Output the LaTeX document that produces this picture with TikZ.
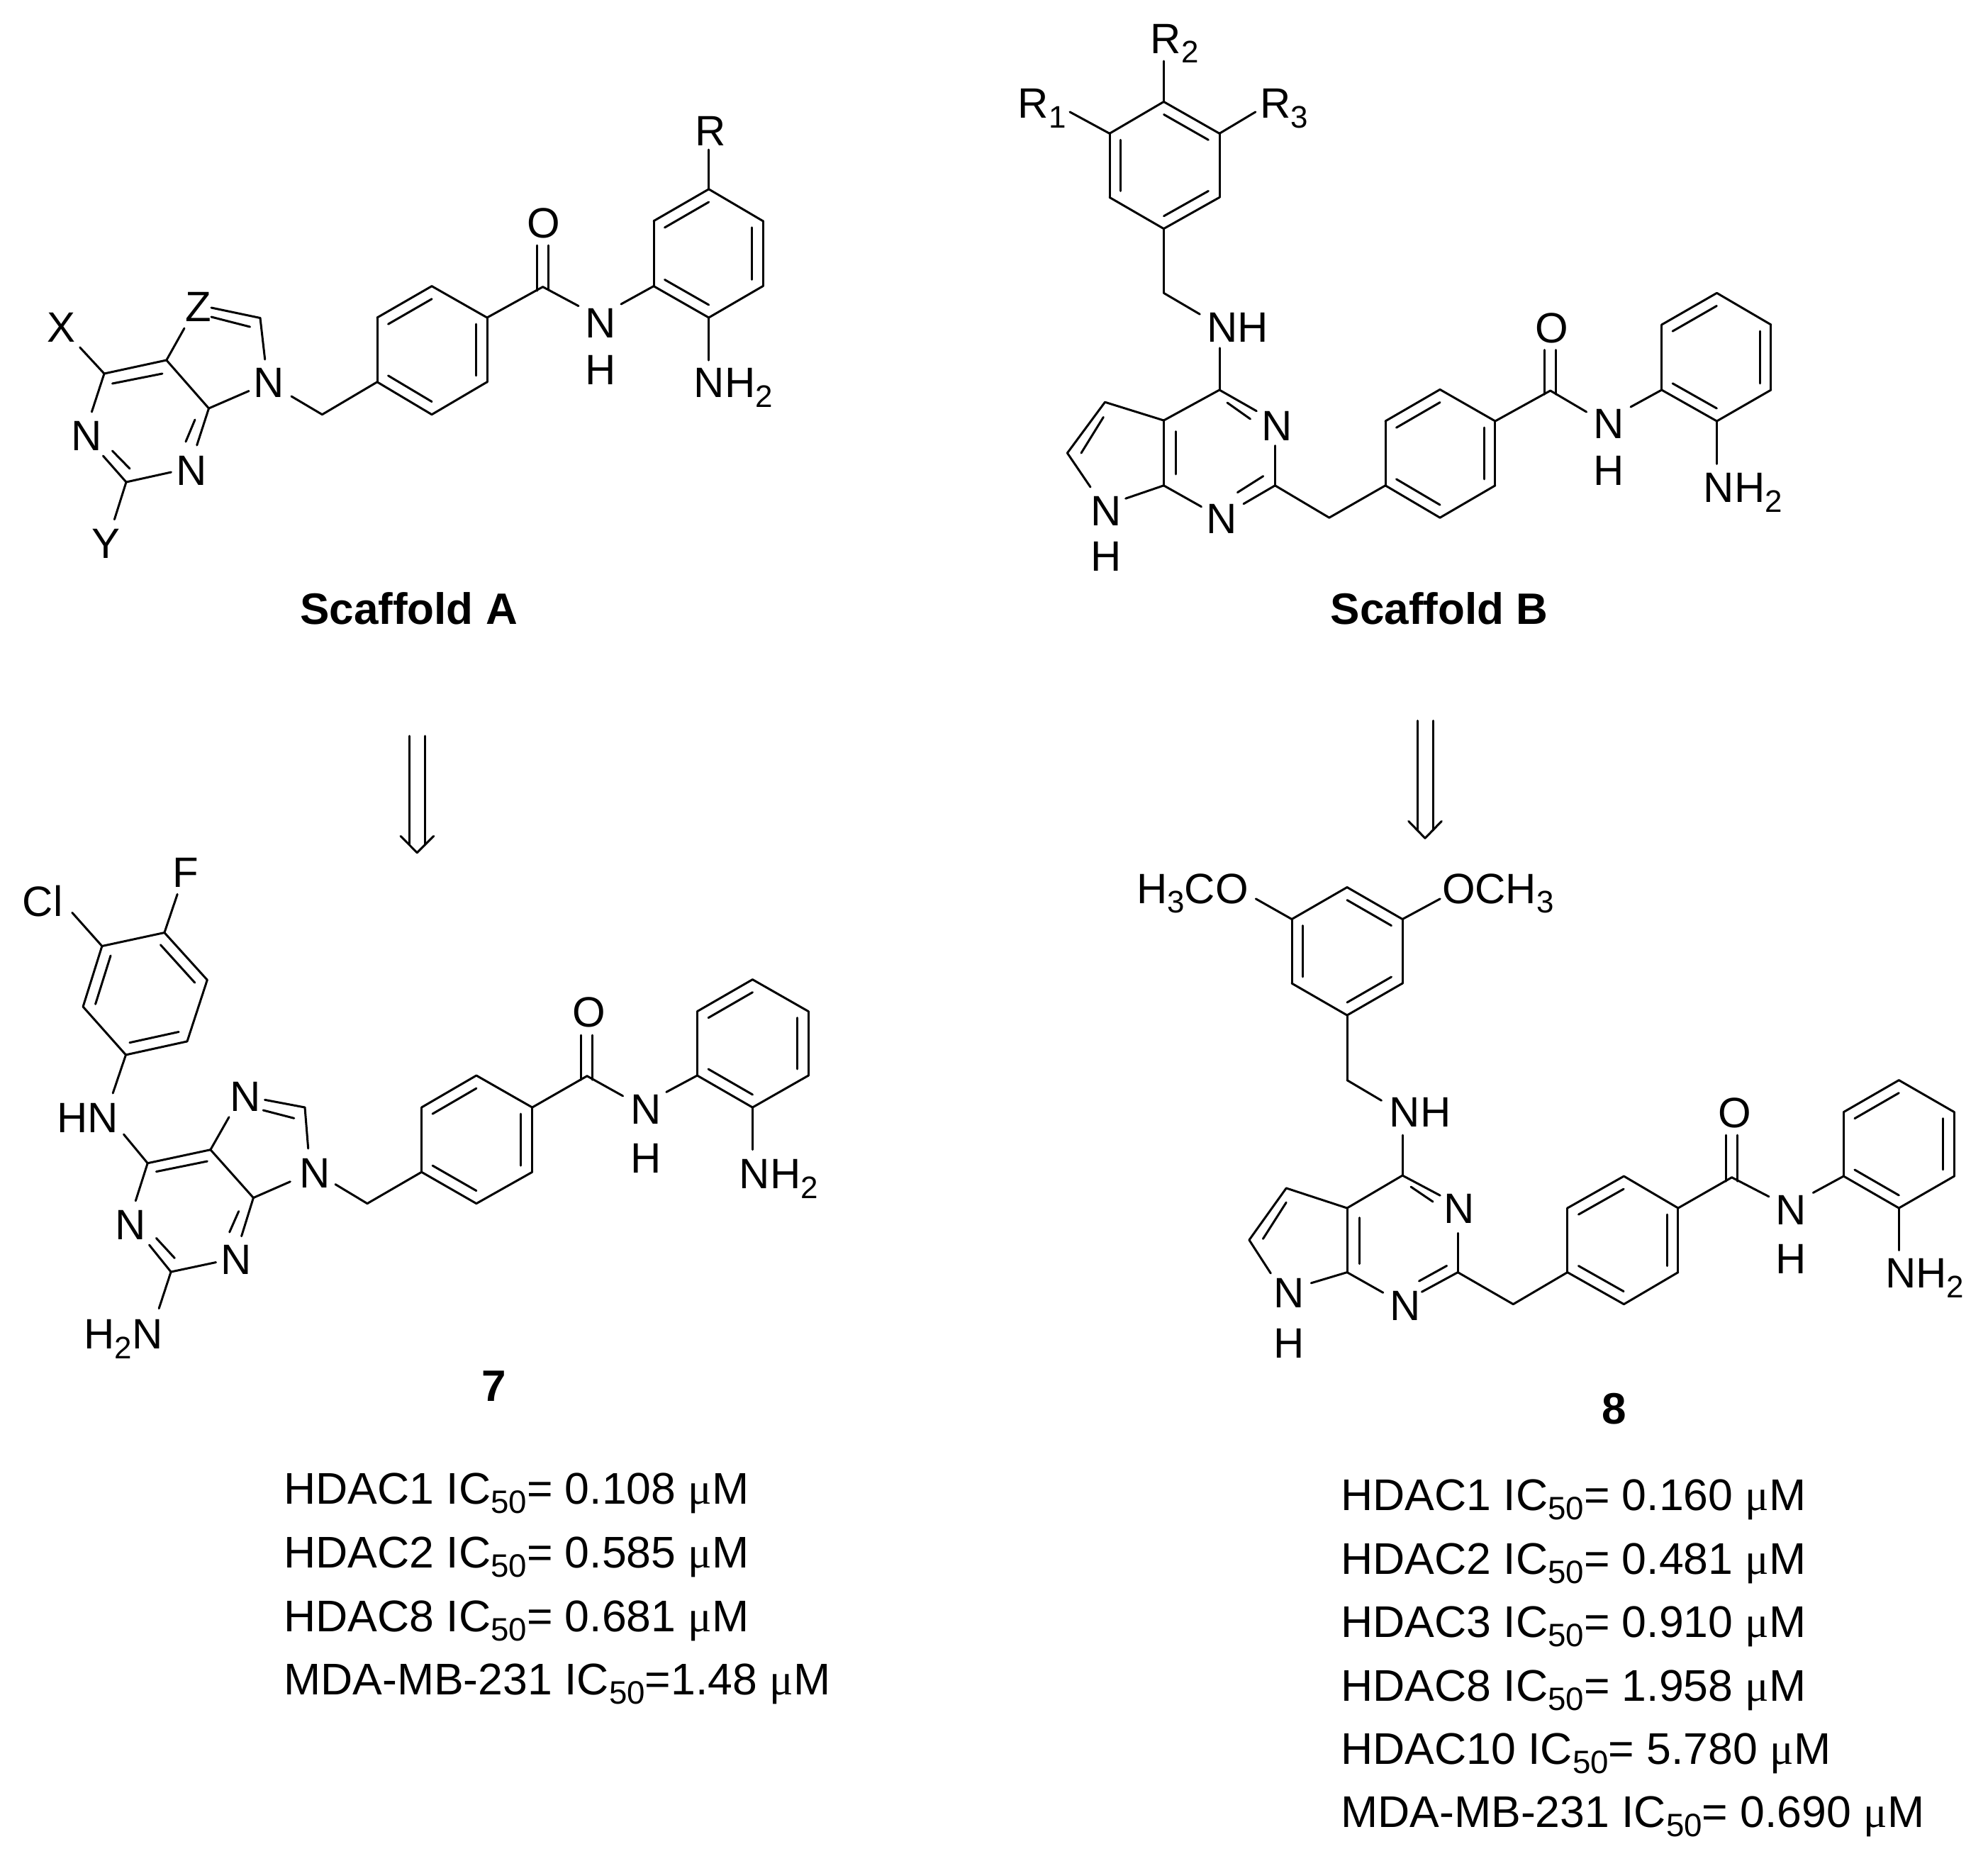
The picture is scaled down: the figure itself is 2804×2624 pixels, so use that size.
\documentclass[tikz,border=0pt]{standalone}
\usepackage{fontspec}
\setmainfont{Liberation Sans}
\newfontfamily\mufont{Liberation Serif}
\usetikzlibrary{calc}
\newcommand\sbs[1]{\raisebox{-0.27cm}{\fontsize{25}{25}\selectfont #1}}
\newcommand\lsb[1]{\raisebox{-0.26cm}{\fontsize{26}{26}\selectfont #1}}
\newcommand\um{{\mufont μ}M}
\newcommand\molpts[1]{\foreach \n/\x/\y in {#1} {\coordinate (\n) at (\x,\y);}}
\newcommand\molbonds[1]{\foreach \p/\q in {#1} {\draw[bond] (\p)--(\q);}}
\newcommand\ringdbl[1]{\foreach \p/\q/\r in {#1} {\draw[bond] ($(\p)!0.2!(\r)$)--($(\q)!0.2!(\r)$);}}
\tikzset{
  bond/.style={line width=0.06cm,line cap=round,line join=round,black},
  atom/.style={inner sep=0pt,text height=0.86cm,text depth=0pt,font=\fontsize{34.1}{40}\selectfont,black},
  atomw/.style={atom,anchor=west},
  title/.style={inner sep=0pt,text height=0.89cm,text depth=0pt,font=\fontsize{35.3}{40}\selectfont\bfseries,black},
  assay/.style={inner sep=0pt,anchor=base west,font=\fontsize{35.6}{40}\selectfont,black}
}
\begin{document}
\begin{tikzpicture}[x=0.02cm,y=-0.02cm]
\useasboundingbox[fill=white] (0,0) rectangle (2804,2624);
% ---------- Scaffold A
\molpts{a1/999.7/266.8,a2/1076/311.7,a3/1076/403.6,a4/999.7/448,a5/922/403.6,a6/922/311.7,ar/999.5/358,
aRe/999.7/211,aNHe/999.7/508,aNr/876/429,aNc/816/431.6,aco/765.6/404.6,
a7/609/403.6,a8/687/448,a9/687/538.8,a10/609/584.7,a11/532/538.8,a12/532/448,as/609.5/494,
ach/454.4/584.7,aN9c/411/559,aN9f/351/551.5,aC4/294.5/576,aC5/234.8/508,aZe/260/463,
aCH/367/448.5,aZd/298/434,aZi/298/447,aCi/352.6/461,aN9t/373.7/507,
aC6/147/527,aXe/112.7/490,ai1/158.5/541,ai2/229/527,aN1e/129.4/581,aN1d/145.4/643,aC2/178/680,
ai3/158.5/636,ai4/183/661,aN3e/241.4/666,aYe/161.4/732.7,aN3d/277.7/628,ai5/275/592,ai6/262/623,
ao1/757.5/346,ao2/757.5/410,ao3/773.5/346,ao4/773.5/408.5}
\molbonds{a1/a2,a2/a3,a3/a4,a4/a5,a5/a6,a6/a1,a1/aRe,a4/aNHe,a5/aNr,aNc/aco,aco/a8,
a7/a8,a8/a9,a9/a10,a10/a11,a11/a12,a12/a7,a11/ach,ach/aN9c,aN9f/aC4,aC4/aC5,aC5/aZe,
aZd/aCH,aZi/aCi,aCH/aN9t,aC5/aC6,ai1/ai2,aC6/aXe,aC6/aN1e,aN1d/aC2,ai3/ai4,aC2/aN3e,aC2/aYe,
aC4/aN3d,ai5/ai6,ao1/ao2,ao3/ao4}
\ringdbl{a1/a6/ar,a2/a3/ar,a4/a5/ar,a7/a12/as,a8/a9/as,a10/a11/as}
\node[atom] (aR) at (1002,184) {R};
\node[atom] (aO) at (767,314) {O};
\node[atom] (aN) at (847,454.6) {N};
\node[atom] (aH) at (847,521) {H};
\node[atomw] (aNH2) at (978.5,539) {NH\sbs{2}};
\node[atom] (aN9) at (379.5,538.8) {N};
\node[atom] (aZ) at (280,431.6) {Z};
\node[atom] (aX) at (86,461) {X};
\node[atom] (aN1) at (122,614) {N};
\node[atom] (aN3) at (270.5,663) {N};
\node[atom] (aY) at (149,766) {Y};
\node[title] (ta) at (576.5,858) {Scaffold A};
% ---------- Scaffold B
\molpts{b1/1641.4/143.5,b2/1720/188.3,b3/1720/278.4,b4/1641.4/322.6,b5/1565/278.4,b6/1565/188.3,br/1642/233.5,
bR2e/1641.4/86,bR1e/1509/157.9,bR3e/1770.8/157.9,bch/1641.4/413.3,bNe/1692.3/443.2,bNb/1720/490.8,
bC4/1720/550,bN3d/1772.3/579.8,bi1/1731/568,bi2/1763.5/591,bN3b/1798.4/628.6,bC2/1798.4/684.8,
bN1d/1754/710.7,bi3/1781.7/671.6,bi4/1745.4/694.6,bN1b/1694.5/714.7,bC7/1641.4/684.8,bC3a/1641.4/593,
bi5/1658/608.5,bi6/1658/668.8,bC3/1558.5/567.2,bCp/1505.4/639,bN7a/1538/687,bN7b/1587.6/703.2,
bi7/1556.3/588.4,bi8/1525/639,bch2/1874.8/730.2,
b7/1954/684.8,b8/2031/730.2,b9/2108.9/684.8,b10/2108.9/594,b11/2031/549.4,b12/1954/594,bs/2031.4/640,
bco/2186.7/551,bo1/2178/493.7,bo2/2178/556,bo3/2194/493.7,bo4/2194/556,bNc/2237.6/581,bNr/2300/574,
c1x/2343.7/550,b13/2343.7/458,b14/2421.5/413.3,b15/2497.9/458,b16/2497.9/550,b17/2421.5/594,bt/2420.8/504,bNHe/2421.5/654.4}
\molbonds{b1/b2,b2/b3,b3/b4,b4/b5,b5/b6,b6/b1,b1/bR2e,b6/bR1e,b2/bR3e,b4/bch,bch/bNe,bNb/bC4,bC4/bN3d,bi1/bi2,bN3b/bC2,
bC2/bN1d,bi3/bi4,bN1b/bC7,bC7/bC3a,bC3a/bC4,bi5/bi6,bC3a/bC3,bC3/bCp,bi7/bi8,bCp/bN7a,bN7b/bC7,bC2/bch2,bch2/b7,
b7/b8,b8/b9,b9/b10,b10/b11,b11/b12,b12/b7,b10/bco,bco/bNc,bo1/bo2,bo3/bo4,bNr/c1x,c1x/b13,b13/b14,b14/b15,b15/b16,b16/b17,b17/c1x,b17/bNHe}
\ringdbl{b1/b2/br,b5/b6/br,b3/b4/br,b11/b12/bs,b9/b10/bs,b7/b8/bs,b13/b14/bt,b15/b16/bt,b17/c1x/bt}
\node[atomw] (bR2) at (1622.5,53.5) {R\sbs{2}};
\node[atomw] (bR1) at (1435.5,145) {R\sbs{1}};
\node[atomw] (bR3) at (1777,145) {R\sbs{3}};
\node[atomw] (bNH) at (1702,461) {NH};
\node[atom] (bN3) at (1801.3,600) {N};
\node[atom] (bN1) at (1723.5,730.8) {N};
\node[atom] (bN7) at (1560,720.4) {N};
\node[atom] (bH7) at (1560,783.6) {H};
\node[atom] (bO) at (2188.9,462) {O};
\node[atom] (bN) at (2268.8,597) {N};
\node[atom] (bH) at (2268.8,663) {H};
\node[atomw] (bNH2) at (2402.5,687) {NH\sbs{2}};
\node[title] (tb) at (2030,858) {Scaffold B};
% ---------- Compound 7
\molpts{c1/143.9/1334.5,c2/231.9/1315.5,c3/292.3/1382.2,c4/264/1468.9,c5/177.5/1487.9,c6/117.1/1420,cr/204.7/1401.7,
cFe/250.2/1261.3,cCle/101.8/1287.3,cHNa/159.2/1542,cHNb/174.5/1600,
cC6/208.2/1640.7,cC5/296.9/1621.7,cC4/357.4/1689.5,cC2/241.1/1794,cN1a/191.3/1693.8,cN1b/210.5/1756,
ci1/220.4/1746.4,ci2/246.4/1774.6,cN3a/304.6/1780.5,cNH2e/224.2/1845.6,cN3b/340.6/1743.7,ci3/336.7/1708.5,ci4/323.7/1738,
ci5/220.4/1652.6,ci6/292.3/1638,cN7e/323/1575.7,cN7d/373.5/1551.3,cC8/430/1562,ci7/371.2/1566,ci8/414.8/1577.3,cN9t/434.7/1620,
cN9a/409.4/1666.7,cN9b/473/1670.5,cch/518/1697.6,
c7/594.6/1653.2,c8/671.9/1697.6,c9/750.7/1653.2,c10/750.7/1562,c11/671.9/1517,c12/594.6/1562,cs/672/1607.5,
cco/828/1517.7,co1/819/1460,co2/819/1523,co3/835.7/1460,co4/835.7/1523,cNc/878.6/1545.9,cNr/939.8/1540.4,
c13/983.4/1517,c14/983.4/1426.6,c15/1061.4/1381.6,c16/1140.3/1426.6,c17/1140.3/1517,c18/1061.4/1562,ct/1061.8/1471.8,cNHe/1061.4/1621.7}
\molbonds{c1/c2,c2/c3,c3/c4,c4/c5,c5/c6,c6/c1,c2/cFe,c1/cCle,c5/cHNa,cHNb/cC6,cC6/cC5,ci5/ci6,cC5/cC4,cC6/cN1a,cN1b/cC2,ci1/ci2,
cC2/cN3a,cC2/cNH2e,cC4/cN3b,ci3/ci4,cC5/cN7e,cN7d/cC8,ci7/ci8,cC8/cN9t,cC4/cN9a,cN9b/cch,cch/c7,
c7/c8,c8/c9,c9/c10,c10/c11,c11/c12,c12/c7,c10/cco,cco/cNc,co1/co2,co3/co4,cNr/c13,c13/c14,c14/c15,c15/c16,c16/c17,c17/c18,c18/c13,c18/cNHe}
\ringdbl{c1/c6/cr,c2/c3/cr,c4/c5/cr,c11/c12/cs,c9/c10/cs,c7/c8/cs,c14/c15/ct,c16/c17/ct,c18/c13/ct}
\node[atom] (cF) at (261.7,1230.4) {F};
\node[atomw] (cCl) at (31.5,1270.5) {Cl};
\node[atomw] (cHN) at (80,1575.7) {HN};
\node[atom] (cN1) at (183.7,1727.4) {N};
\node[atom] (cN3) at (332.9,1776) {N};
\node[atomw] (cH2N) at (118,1881) {H\sbs{2}N};
\node[atom] (cN7) at (345.9,1545.9) {N};
\node[atom] (cN9) at (443.9,1654.3) {N};
\node[atom] (cO) at (830.3,1426.6) {O};
\node[atom] (cN) at (910.7,1563.7) {N};
\node[atom] (cH) at (910.7,1632.6) {H};
\node[atomw] (cNH2) at (1042.4,1655) {NH\sbs{2}};
\node[title] (t7) at (696.4,1954) {7};
% ---------- Compound 8
\molpts{d1/1822/1296.5,d2/1900/1251.5,d3/1978.1/1296.5,d4/1978.1/1387,d5/1900/1432,d6/1822/1387,dr/1900/1341.8,
dLe/1771.3/1267.8,dRe/2031.2/1267.8,dch/1900/1523.6,dNe/1948.5/1552.3,dNb/1978.1/1601,
dC4/1978.1/1658,dN3d/2031.2/1686.2,di1/1990/1674,di2/2021/1695,dN3b/2056.2/1739.3,dC2/2056.2/1794.6,
dN1d/2005.4/1822.2,di3/2040.6/1785.4,di4/2001.5/1807,dN1b/1950.8/1823.3,dC7/1900/1794.6,dC3a/1900/1704,
di5/1917.2/1717.6,di6/1917.2/1782.7,dC3/1814.2/1675.9,dCp/1761.9/1749,di7/1814.2/1696,di8/1781.4/1747.4,
dN7a/1792.3/1796,dN7b/1849.3/1809.8,dch2/2134.3/1839.6,
d7/2210.8/1794.6,d8/2290.4/1839.6,d9/2366.9/1794.6,d10/2366.9/1704,d11/2290.4/1659,d12/2210.8/1704,ds/2289/1749.3,
dco/2442.6/1660.7,do1/2434.8/1601,do2/2434.8/1666,do3/2450.4/1601,do4/2450.4/1666,dNc/2494.9/1687.8,dNr/2557.3/1682.4,
d13/2600.3/1659,d14/2600.3/1568.6,d15/2678.3/1523.6,d16/2756.4/1568.6,d17/2756.4/1659,d18/2678.3/1704,dt/2678.3/1613.8,dNHe/2678.3/1763.7}
\molbonds{d1/d2,d2/d3,d3/d4,d4/d5,d5/d6,d6/d1,d1/dLe,d3/dRe,d5/dch,dch/dNe,dNb/dC4,dC4/dN3d,di1/di2,dN3b/dC2,dC2/dN1d,di3/di4,
dN1b/dC7,dC7/dC3a,dC3a/dC4,di5/di6,dC3a/dC3,dC3/dCp,di7/di8,dCp/dN7a,dN7b/dC7,dC2/dch2,dch2/d7,
d7/d8,d8/d9,d9/d10,d10/d11,d11/d12,d12/d7,d10/dco,dco/dNc,do1/do2,do3/do4,dNr/d13,d13/d14,d14/d15,d15/d16,d16/d17,d17/d18,d18/d13,d18/dNHe}
\ringdbl{d2/d3/dr,d1/d6/dr,d4/d5/dr,d11/d12/ds,d9/d10/ds,d7/d8/ds,d14/d15/dt,d16/d17/dt,d18/d13/dt}
\node[atomw] (dH3CO) at (1602.8,1252.6) {H\sbs{3}CO};
\node[atomw] (dOCH3) at (2033.7,1252.6) {OCH\sbs{3}};
\node[atomw] (dNH) at (1959.5,1567.5) {NH};
\node[atom] (dN3) at (2057.7,1704) {N};
\node[atom] (dN1) at (1982,1840.7) {N};
\node[atom] (dN7) at (1818,1823) {N};
\node[atom] (dH7) at (1818,1893.8) {H};
\node[atom] (dO) at (2446.5,1568.6) {O};
\node[atom] (dN) at (2526,1705.7) {N};
\node[atom] (dH) at (2526,1774.5) {H};
\node[atomw] (dNH2) at (2659,1795) {NH\sbs{2}};
\node[title] (t8) at (2277,1986) {8};
% ---------- Arrows
\molpts{p1/577.3/1038,p2/577.3/1191.7,p3/599.7/1038,p4/599.7/1191.7,p5/565/1179.3,p6/588.3/1202.7,p7/611.7/1179.3,
q1/1999/1016.7,q2/1999/1171,q3/2021.3/1016.7,q4/2021.3/1171,q5/1986.7/1158.3,q6/2010/1182.3,q7/2033.3/1158.3}
\molbonds{p1/p2,p3/p4,p5/p6,p6/p7,q1/q2,q3/q4,q5/q6,q6/q7}
% ---------- Assay lists
\node[assay] (l1) at (400,2121.7) {HDAC1 IC\lsb{50}= 0.108 \um};
\node[assay] (l2) at (400,2211) {HDAC2 IC\lsb{50}= 0.585 \um};
\node[assay] (l3) at (400,2301) {HDAC8 IC\lsb{50}= 0.681 \um};
\node[assay] (l4) at (400,2390) {MDA-MB-231 IC\lsb{50}=1.48 \um};
\node[assay] (r1) at (1891,2130) {HDAC1 IC\lsb{50}= 0.160 \um};
\node[assay] (r2) at (1891,2220) {HDAC2 IC\lsb{50}= 0.481 \um};
\node[assay] (r3) at (1891,2309) {HDAC3 IC\lsb{50}= 0.910 \um};
\node[assay] (r4) at (1891,2399) {HDAC8 IC\lsb{50}= 1.958 \um};
\node[assay] (r5) at (1891,2488.6) {HDAC10 IC\lsb{50}= 5.780 \um};
\node[assay] (r6) at (1891,2577) {MDA-MB-231 IC\lsb{50}= 0.690 \um};
\end{tikzpicture}
\end{document}
